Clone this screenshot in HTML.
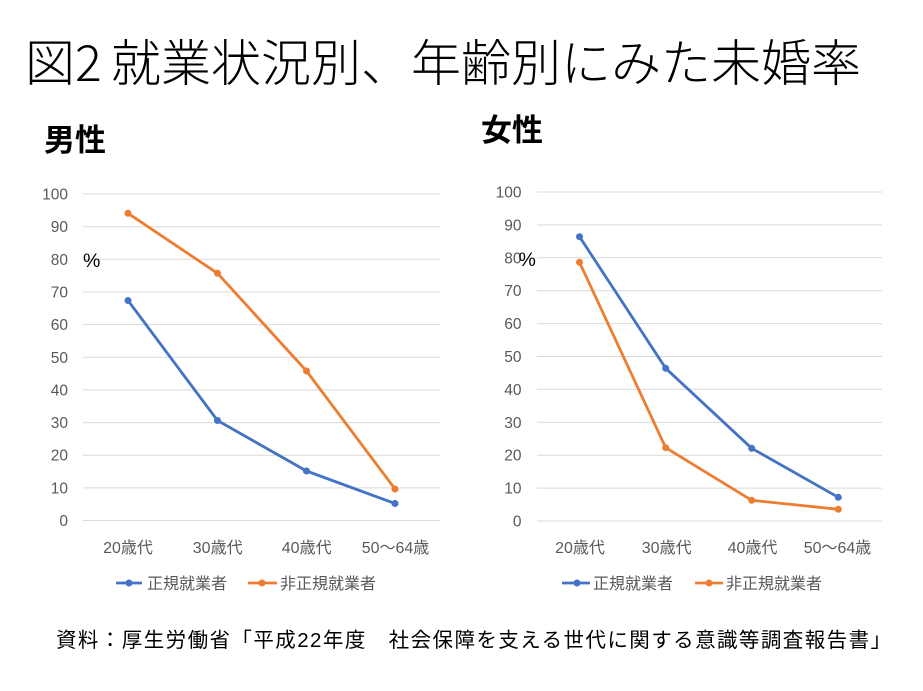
<!DOCTYPE html>
<html>
<head>
<meta charset="utf-8">
<style>
  html,body{margin:0;padding:0;background:#fff;}
  svg{display:block;}
  .t{font-family:"Liberation Sans","Noto Sans CJK JP",sans-serif;}
  .tl{font-family:"Noto Sans CJK JP Light","Noto Sans CJK JP DemiLight","Noto Sans CJK JP","Liberation Sans",sans-serif;}
  .ax{font-family:"Liberation Sans","Noto Sans CJK JP",sans-serif;fill:#595959;font-size:15.5px;}
  .xl{font-family:"Liberation Sans","Noto Sans CJK JP",sans-serif;fill:#595959;font-size:16px;}
  .lg{font-family:"Liberation Sans","Noto Sans CJK JP",sans-serif;fill:#595959;font-size:16px;}
  .grid line{stroke:#d9d9d9;stroke-width:1;}
</style>
</head>
<body>
<svg width="923" height="691" viewBox="0 0 923 691" xmlns="http://www.w3.org/2000/svg">
  <rect width="923" height="691" fill="#fff"/>

  <!-- Title -->
  <text class="tl" x="25" y="81" font-size="50" font-weight="300" fill="#000">図</text>
  <text class="tl" x="75" y="81" font-size="50" font-weight="300" fill="#000">2</text>
  <text class="tl" x="111" y="81" font-size="50" font-weight="300" fill="#000" textLength="750" lengthAdjust="spacingAndGlyphs">就業状況別、年齢別にみた未婚率</text>

  <!-- Panel titles -->
  <text class="t" x="44" y="151" font-size="31" font-weight="bold" fill="#000">男性</text>
  <text class="t" x="481" y="141" font-size="31" font-weight="bold" fill="#000">女性</text>

  <!-- LEFT CHART -->
  <g class="grid">
    <line x1="83" y1="194" x2="440" y2="194"/>
    <line x1="83" y1="226.7" x2="440" y2="226.7"/>
    <line x1="83" y1="259.3" x2="440" y2="259.3"/>
    <line x1="83" y1="292" x2="440" y2="292"/>
    <line x1="83" y1="324.6" x2="440" y2="324.6"/>
    <line x1="83" y1="357.3" x2="440" y2="357.3"/>
    <line x1="83" y1="389.9" x2="440" y2="389.9"/>
    <line x1="83" y1="422.6" x2="440" y2="422.6"/>
    <line x1="83" y1="455.2" x2="440" y2="455.2"/>
    <line x1="83" y1="487.9" x2="440" y2="487.9"/>
    <line x1="83" y1="520.5" x2="440" y2="520.5"/>
  </g>
  <g class="ax" text-anchor="end">
    <text x="68" y="199.5">100</text>
    <text x="68" y="232.2">90</text>
    <text x="68" y="264.8">80</text>
    <text x="68" y="297.5">70</text>
    <text x="68" y="330.1">60</text>
    <text x="68" y="362.8">50</text>
    <text x="68" y="395.4">40</text>
    <text x="68" y="428.1">30</text>
    <text x="68" y="460.7">20</text>
    <text x="68" y="493.4">10</text>
    <text x="68" y="526">0</text>
  </g>
  <text class="t" x="83" y="267" font-size="19.5" fill="#000">%</text>
  <g class="xl" text-anchor="middle">
    <text x="128" y="553">20歳代</text>
    <text x="217.7" y="553">30歳代</text>
    <text x="306.7" y="553">40歳代</text>
    <text x="395.5" y="553">50〜64歳</text>
  </g>
  <polyline points="128,300.5 217.5,420.5 306.5,471 395,503.5" fill="none" stroke="#4472c4" stroke-width="2.8" stroke-linejoin="round"/>
  <polyline points="128,213.3 217.5,273.3 306.5,371 395,489" fill="none" stroke="#ed7d31" stroke-width="2.8" stroke-linejoin="round"/>
  <g fill="#4472c4">
    <circle cx="128" cy="300.5" r="3.5"/><circle cx="217.5" cy="420.5" r="3.5"/><circle cx="306.5" cy="471" r="3.5"/><circle cx="395" cy="503.5" r="3.5"/>
  </g>
  <g fill="#ed7d31">
    <circle cx="128" cy="213.3" r="3.5"/><circle cx="217.5" cy="273.3" r="3.5"/><circle cx="306.5" cy="371" r="3.5"/><circle cx="395" cy="489" r="3.5"/>
  </g>
  <!-- left legend -->
  <line x1="116" y1="583" x2="142" y2="583" stroke="#4472c4" stroke-width="2.8"/>
  <circle cx="129" cy="583" r="3.5" fill="#4472c4"/>
  <text class="lg" x="147" y="589">正規就業者</text>
  <line x1="248" y1="583" x2="277" y2="583" stroke="#ed7d31" stroke-width="2.8"/>
  <circle cx="262" cy="583" r="3.5" fill="#ed7d31"/>
  <text class="lg" x="280" y="589">非正規就業者</text>

  <!-- RIGHT CHART -->
  <g class="grid">
    <line x1="537" y1="192" x2="882" y2="192"/>
    <line x1="537" y1="224.9" x2="882" y2="224.9"/>
    <line x1="537" y1="257.8" x2="882" y2="257.8"/>
    <line x1="537" y1="290.7" x2="882" y2="290.7"/>
    <line x1="537" y1="323.6" x2="882" y2="323.6"/>
    <line x1="537" y1="356.5" x2="882" y2="356.5"/>
    <line x1="537" y1="389.4" x2="882" y2="389.4"/>
    <line x1="537" y1="422.3" x2="882" y2="422.3"/>
    <line x1="537" y1="455.2" x2="882" y2="455.2"/>
    <line x1="537" y1="488.1" x2="882" y2="488.1"/>
    <line x1="537" y1="521" x2="882" y2="521"/>
  </g>
  <g class="ax" text-anchor="end">
    <text x="521.5" y="197.5">100</text>
    <text x="521.5" y="230.4">90</text>
    <text x="521.5" y="263.3">80</text>
    <text x="521.5" y="296.2">70</text>
    <text x="521.5" y="329.1">60</text>
    <text x="521.5" y="362">50</text>
    <text x="521.5" y="394.9">40</text>
    <text x="521.5" y="427.8">30</text>
    <text x="521.5" y="460.7">20</text>
    <text x="521.5" y="493.6">10</text>
    <text x="521.5" y="526.5">0</text>
  </g>
  <text class="t" x="518.5" y="266" font-size="19.5" fill="#000">%</text>
  <g class="xl" text-anchor="middle">
    <text x="580" y="553">20歳代</text>
    <text x="666.7" y="553">30歳代</text>
    <text x="752.5" y="553">40歳代</text>
    <text x="837.5" y="553">50〜64歳</text>
  </g>
  <polyline points="579.5,236.7 665.7,368.3 751.7,448.3 838.3,497.3" fill="none" stroke="#4472c4" stroke-width="2.8" stroke-linejoin="round"/>
  <polyline points="579.5,262.3 665.7,447.7 751.7,500.3 838.3,509.3" fill="none" stroke="#ed7d31" stroke-width="2.8" stroke-linejoin="round"/>
  <g fill="#4472c4">
    <circle cx="579.5" cy="236.7" r="3.5"/><circle cx="665.7" cy="368.3" r="3.5"/><circle cx="751.7" cy="448.3" r="3.5"/><circle cx="838.3" cy="497.3" r="3.5"/>
  </g>
  <g fill="#ed7d31">
    <circle cx="579.5" cy="262.3" r="3.5"/><circle cx="665.7" cy="447.7" r="3.5"/><circle cx="751.7" cy="500.3" r="3.5"/><circle cx="838.3" cy="509.3" r="3.5"/>
  </g>
  <!-- right legend -->
  <line x1="562" y1="583" x2="590" y2="583" stroke="#4472c4" stroke-width="2.8"/>
  <circle cx="577" cy="583" r="3.5" fill="#4472c4"/>
  <text class="lg" x="593" y="589">正規就業者</text>
  <line x1="695" y1="583" x2="723" y2="583" stroke="#ed7d31" stroke-width="2.8"/>
  <circle cx="709" cy="583" r="3.5" fill="#ed7d31"/>
  <text class="lg" x="726" y="589">非正規就業者</text>

  <!-- Footer -->
  <text class="t" x="56" y="647" font-size="20.5" fill="#000" textLength="835" lengthAdjust="spacing">資料：厚生労働省「平成22年度　社会保障を支える世代に関する意識等調査報告書」</text>
</svg>
</body>
</html>
